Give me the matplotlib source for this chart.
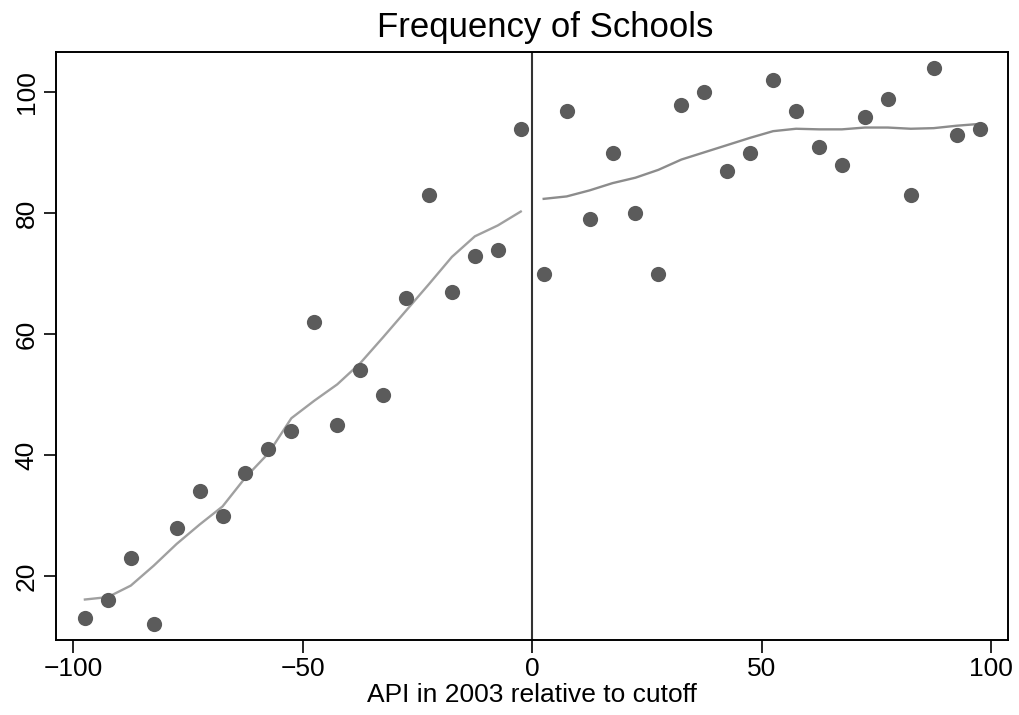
import matplotlib
matplotlib.use("Agg")
import matplotlib.pyplot as plt

plt.rcParams["font.family"] = ["Liberation Sans", "DejaVu Sans"]

# bin midpoints (API relative to cutoff)
left_x = [-97.5, -92.5, -87.5, -82.5, -77.5, -72.5, -67.5, -62.5, -57.5, -52.5,
          -47.5, -42.5, -37.5, -32.5, -27.5, -22.5, -17.5, -12.5, -7.5, -2.5]
right_x = [2.5, 7.5, 12.5, 17.5, 22.5, 27.5, 32.5, 37.5, 42.5, 47.5,
           52.5, 57.5, 62.5, 67.5, 72.5, 77.5, 82.5, 87.5, 92.5, 97.5]

# number of schools per bin
left_freq = [13, 16, 23, 12, 28, 34, 30, 37, 41, 44,
             62, 45, 54, 50, 66, 83, 67, 73, 74, 94]
right_freq = [70, 97, 79, 90, 80, 70, 98, 100, 87, 90,
              102, 97, 91, 88, 96, 99, 83, 104, 93, 94]

# smoothed curves
left_smooth = [16.1, 16.5, 18.4, 21.7, 25.3, 28.5, 31.5, 36.3, 40.3, 46.1,
               49.0, 51.7, 55.2, 59.5, 63.9, 68.3, 72.8, 76.2, 78.0, 80.3]
right_smooth = [82.4, 82.8, 83.8, 85.0, 85.9, 87.2, 88.9, 90.1, 91.3, 92.5,
                93.6, 94.0, 93.9, 93.9, 94.2, 94.2, 94.0, 94.1, 94.5, 94.8]

x_ticks = [-100, -50, 0, 50, 100]
y_ticks = [20, 40, 60, 80, 100]

fig = plt.figure(figsize=(10.19, 7.15), dpi=100)
ax = fig.add_axes([56 / 1019, 75 / 715, 952 / 1019, 588 / 715])

dot = "#5b5b5b"
ax.scatter(left_x, left_freq, s=120, color=dot, zorder=3, linewidths=0)
ax.scatter(right_x, right_freq, s=120, color=dot, zorder=3, linewidths=0)
ax.plot(left_x, left_smooth, color="#a0a0a0", lw=1.7, zorder=2)
ax.plot(right_x, right_smooth, color="#8c8c8c", lw=1.7, zorder=2)
ax.axvline(0, color="#333333", lw=1.5, zorder=1)

ax.set_xlim(-103.8, 103.7)
ax.set_ylim(9.4, 106.7)
ax.set_xticks(x_ticks)
ax.set_yticks(y_ticks)
ax.tick_params(labelsize=19, length=9, width=1.2, color="black")
for lab in ax.get_yticklabels():
    lab.set_rotation(90)
    lab.set_va("center")
for sp in ax.spines.values():
    sp.set_linewidth(1.4)

ax.set_xlabel("API in 2003 relative to cutoff", fontsize=19, labelpad=1)
fig.text(545 / 1019, 1 - 28 / 715, "Frequency of Schools", fontsize=25,
         ha="center", va="center")

fig.savefig("out.png", dpi=100, facecolor="white")
